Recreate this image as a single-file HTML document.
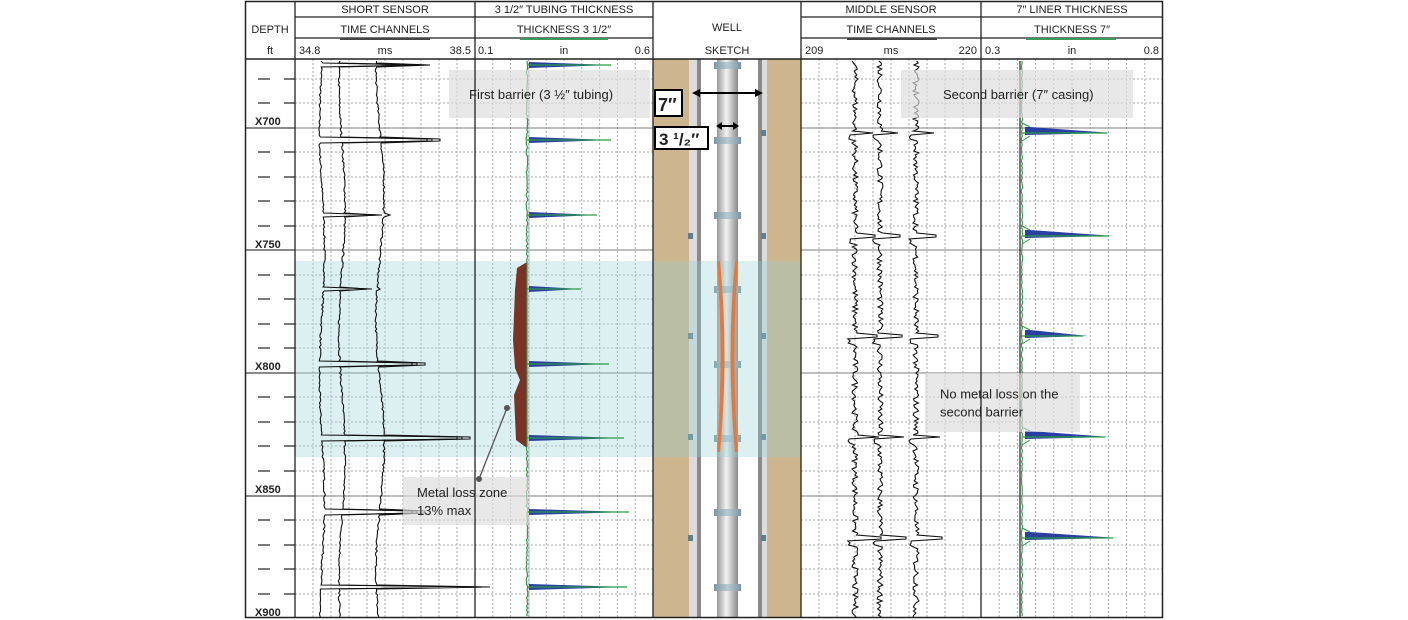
<!DOCTYPE html>
<html><head><meta charset="utf-8"><style>
body{margin:0;width:1408px;height:620px;background:#fff;overflow:hidden}
svg{display:block}
text{font-family:"Liberation Sans",sans-serif;fill:#222}
</style></head><body>
<svg id="s" width="1408" height="620" viewBox="0 0 1408 620" xmlns="http://www.w3.org/2000/svg">
<defs>
<linearGradient id="tub" x1="0" x2="1"><stop offset="0" stop-color="#9a9a9a"/><stop offset="0.45" stop-color="#f2f2f2"/><stop offset="1" stop-color="#8a8a8a"/></linearGradient>
<linearGradient id="col" x1="0" x2="1"><stop offset="0" stop-color="#7d96a3"/><stop offset="0.5" stop-color="#b9c9d1"/><stop offset="1" stop-color="#7d96a3"/></linearGradient>
</defs>
<g id="g"></g>
<g font-size="11" text-anchor="middle">
<text x="270" y="33">DEPTH</text><text x="270" y="54">ft</text>
<text x="385" y="13">SHORT SENSOR</text><text x="385" y="33">TIME CHANNELS</text>
<text x="299" y="54" text-anchor="start">34.8</text><text x="385" y="54">ms</text><text x="471" y="54" text-anchor="end">38.5</text>
<text x="564" y="13">3 1/2″ TUBING THICKNESS</text><text x="564" y="33">THICKNESS 3 1/2″</text>
<text x="478" y="54" text-anchor="start">0.1</text><text x="564" y="54">in</text><text x="650" y="54" text-anchor="end">0.6</text>
<text x="727" y="31">WELL</text><text x="727" y="54">SKETCH</text>
<text x="891" y="13">MIDDLE SENSOR</text><text x="891" y="33">TIME CHANNELS</text>
<text x="805" y="54" text-anchor="start">209</text><text x="891" y="54">ms</text><text x="977" y="54" text-anchor="end">220</text>
<text x="1072" y="13">7″ LINER THICKNESS</text><text x="1072" y="33">THICKNESS 7″</text>
<text x="985" y="54" text-anchor="start">0.3</text><text x="1072" y="54">in</text><text x="1159" y="54" text-anchor="end">0.8</text>
</g>
<g font-size="11" font-weight="bold">
<text x="255" y="125">X700</text><text x="255" y="248">X750</text><text x="255" y="370">X800</text><text x="255" y="493">X850</text><text x="255" y="616">X900</text>
</g>
<line x1="340" y1="39" x2="430" y2="39" stroke="#444" stroke-width="2"/>
<line x1="520" y1="39" x2="608" y2="39" stroke="#3a9a5a" stroke-width="2"/>
<line x1="847" y1="39" x2="937" y2="39" stroke="#444" stroke-width="2"/>
<line x1="1026" y1="39" x2="1116" y2="39" stroke="#3a9a5a" stroke-width="2"/>
</svg>
<script>
var NS="http://www.w3.org/2000/svg",G=document.getElementById("g");
function el(t,a,p){var e=document.createElementNS(NS,t);for(var k in a)e.setAttribute(k,a[k]);(p||G).appendChild(e);return e;}
var seed=7;function r(){seed=(seed*16807)%2147483647;return seed/2147483647;}
el("rect",{x:653,y:59,width:148,height:559,fill:"#fff"});
el("rect",{x:653,y:59,width:37,height:559,fill:"#cdb68d"});
el("rect",{x:765,y:59,width:36,height:559,fill:"#cdb68d"});
el("rect",{x:689,y:59,width:8,height:559,fill:"#dcdcdc"});
el("rect",{x:761,y:59,width:6,height:559,fill:"#dcdcdc"});
el("rect",{x:697,y:59,width:4,height:559,fill:"#8a8a8a"});
el("rect",{x:758,y:59,width:4,height:559,fill:"#8a8a8a"});
el("rect",{x:717,y:59,width:21,height:559,fill:"url(#tub)"});
[65,140,215,289,364,438,512,587].forEach(function(y){el("rect",{x:714,y:y-3,width:27,height:7,fill:"url(#col)"});});
[133,236,336,437,538].forEach(function(y){el("rect",{x:688,y:y-3,width:5,height:6,fill:"#5f7f90"});el("rect",{x:761,y:y-3,width:5,height:6,fill:"#5f7f90"});});
function grid(x0,x1,step){for(var x=x0+step;x<x1-2;x+=step)el("line",{x1:x,y1:59,x2:x,y2:618,stroke:"#aaa","stroke-dasharray":"2,2","stroke-width":1});}
grid(295,475,18);grid(475,653,17.8);grid(801,981,18);grid(981,1163,18.2);
var dash=[79,103,152,177,201,226,275,299,324,348,397,422,446,471,520,545,569,594],sol=[128,250,373,496];
[[295,653],[801,1163]].forEach(function(c){dash.forEach(function(y){el("line",{x1:c[0],y1:y,x2:c[1],y2:y,stroke:"#aaa","stroke-dasharray":"2,2"});});sol.forEach(function(y){el("line",{x1:c[0],y1:y,x2:c[1],y2:y,stroke:"#999","stroke-width":1.3});});});
dash.forEach(function(y){el("line",{x1:258,y1:y,x2:270,y2:y,stroke:"#333","stroke-width":1.3});el("line",{x1:284,y1:y,x2:295,y2:y,stroke:"#333","stroke-width":1.3});});
sol.forEach(function(y){el("line",{x1:245,y1:y,x2:295,y2:y,stroke:"#444","stroke-width":1.3});});
el("rect",{x:295,y:261,width:506,height:196,fill:"rgba(150,210,212,0.33)"});
el("path",{d:"M717,261 Q724,355 717,452 L720,452 Q729,355 720,261Z",fill:"#e8773a"});
el("path",{d:"M738,261 Q731,355 738,452 L735,452 Q726,355 735,261Z",fill:"#e8773a"});
var col=[65,140,215,289,364,438,512,587];
function trace(base,amp,noise,spikes,color,w){var d="",x;for(var y=61;y<=617;y+=2){x=base+amp*Math.sin(y/40+base)+ (r()-0.5)*noise;
 spikes.forEach(function(s){var dy=y-s[0];if(Math.abs(dy)<1.1)x=base+s[1];});d+=(d?"L":"M")+x.toFixed(1)+","+y;}
 el("path",{d:d,fill:"none",stroke:color,"stroke-width":w});}
[[322,2.5],[342,3],[380,4]].forEach(function(b,i){var sp=col.map(function(y,j){return [y,[100,110,60,50,95,140,95,160][j]-i*25];});trace(b[0],b[1],1.8,sp,"#111",1.1);});
var d="M527,61";for(var y=62;y<=617;y+=2){var x=527+(r()-0.5)*1.6;if(y>261&&y<448)x=527;d+="L"+x.toFixed(1)+","+y;}
el("path",{d:"M527,262 L517,268 L515,290 L513,340 L515,368 L520,380 L514,395 L516,440 L527,448Z",fill:"#7a3324"});
el("path",{d:d,fill:"none",stroke:"#2a9a4a","stroke-width":1.2});
el("line",{x1:529,y1:61,x2:529,y2:617,stroke:"#bbb","stroke-width":1});
[[65,82],[140,82],[215,68],[289,52],[364,80],[438,95],[512,100],[587,98]].forEach(function(s){
 el("path",{d:"M529,"+(s[0]-3)+"L"+(529+s[1])+","+s[0]+"L529,"+(s[0]+3)+"Z",fill:"#2a3fa0"});
 el("line",{x1:527,y1:s[0],x2:529+s[1],y2:s[0],stroke:"#2a9a4a","stroke-width":1.2});});
[[855,0],[880,1],[916,2]].forEach(function(b){var d="",x;for(var y=61;y<=617;y+=2){x=b[0]+(r()-0.5)*6;
 [133,236,336,437,538].forEach(function(s,j){var dy=y-s;if(Math.abs(dy)<1.1)x=b[0]+18+j*2;else if(dy>1&&dy<8)x=b[0]-6+(r()-0.5)*3;});
 d+=(d?"L":"M")+x.toFixed(1)+","+y;}el("path",{d:d,fill:"none",stroke:"#111","stroke-width":1.1});});
el("line",{x1:1020,y1:61,x2:1020,y2:617,stroke:"#222","stroke-width":1.2});
d="M1022,61";for(y=62;y<=617;y+=2){x=1022+(r()-0.5)*1.4;d+="L"+x.toFixed(1)+","+y;}
el("path",{d:d,fill:"none",stroke:"#2a9a4a","stroke-width":1.1});
[[133,82],[236,84],[336,58],[437,80],[538,88]].forEach(function(s){
 el("path",{d:"M1025,"+(s[0]-6)+"L1030,"+(s[0]-6)+"L"+(1030+s[1])+","+s[0]+"L1025,"+(s[0]+2)+"Z",fill:"#2a3fa0"});
 el("line",{x1:1022,y1:s[0],x2:1025+s[1],y2:s[0],stroke:"#2a9a4a","stroke-width":1.2});
 el("path",{d:"M1022,"+(s[0]-10)+"L1030,"+(s[0]-6)+"M1022,"+(s[0]+8)+"L1030,"+(s[0]+3),stroke:"#2a9a4a",fill:"none"});});
function box(x,y,w,h,lines,tx,fs){el("rect",{x:x,y:y,width:w,height:h,fill:"rgba(220,220,220,0.65)"});
 lines.forEach(function(t,i){var e=el("text",{x:tx,y:y+h/2+5-(lines.length-1)*9+i*18,"font-size":fs||13});e.textContent=t;});}
box(449,70,201,48,["First barrier (3 ½″ tubing)"],469);
box(901,70,232,48,["Second barrier (7″ casing)"],943);
box(925,373,155,59,["No metal loss on the","second barrier"],940);
box(403,477,125,48,["Metal loss zone","13% max"],417);
el("line",{x1:507,y1:408,x2:479,y2:479,stroke:"#555","stroke-width":1.3});
el("circle",{cx:507,cy:408,r:3,fill:"#555"});el("circle",{cx:479,cy:479,r:3,fill:"#555"});
el("line",{x1:697,y1:93,x2:757,y2:93,stroke:"#000","stroke-width":2});
el("path",{d:"M692,93L700,89L700,97Z M763,93L755,89L755,97Z",fill:"#000"});
el("rect",{x:655,y:90,width:27,height:26,fill:"#fff",stroke:"#000","stroke-width":2});
var t=el("text",{x:658,y:111,"font-size":18,"font-weight":"bold"});t.textContent="7′′";
el("line",{x1:720,y1:126,x2:735,y2:126,stroke:"#000","stroke-width":2});
el("path",{d:"M716,126L722,122L722,130Z M739,126L733,122L733,130Z",fill:"#000"});
el("rect",{x:655,y:127,width:53,height:22,fill:"#fff",stroke:"#000","stroke-width":2});
t=el("text",{x:659,y:145,"font-size":17,"font-weight":"bold"});t.textContent="3 ¹/₂′′";
var S="#222";
function L(x1,y1,x2,y2,w){el("line",{x1:x1,y1:y1,x2:x2,y2:y2,stroke:S,"stroke-width":w||1.3});}
el("rect",{x:245.5,y:1.5,width:917,height:616,fill:"none",stroke:S,"stroke-width":1.5});
[295,475,653,801,981].forEach(function(x){L(x,1,x,618);});
L(245,59,1163,59,1.5);
L(295,17,653,17);L(801,17,1163,17);
L(295,38,653,38);L(801,38,1163,38);
</script>
</body></html>
